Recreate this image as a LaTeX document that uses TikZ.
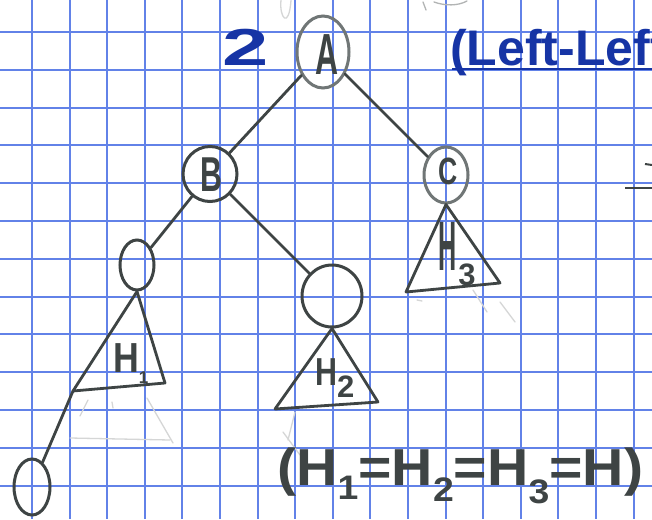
\documentclass[tikz,border=0pt]{standalone}
\usepackage{fontspec}
\setmainfont{Liberation Sans}
\usetikzlibrary{shapes.geometric}
\definecolor{gridblue}{RGB}{98,130,232}
\definecolor{pencil}{RGB}{62,68,68}
\definecolor{lightpencil}{RGB}{112,118,118}
\definecolor{ink}{RGB}{22,52,165}
\begin{document}
\begin{tikzpicture}[x=1pt,y=-1pt,
  gridline/.style={draw=gridblue,line width=2pt},
  vertex/.style={ellipse,draw=pencil,line width=3pt,inner sep=0pt},
  link/.style={draw=pencil,line width=2.8pt,line cap=round},
  tri/.style={draw=pencil,line width=2.8pt,line join=round},
  letter/.style={text=pencil,inner sep=0pt},
  blueink/.style={text=ink,inner sep=0pt},
  faint/.style={draw=pencil!22,line width=1.3pt,line cap=round}]

\fill[white] (0,0) rectangle (652,519);
\useasboundingbox (0,0) rectangle (652,519);
\begin{scope}
\clip (0,0) rectangle (652,519);
\foreach \i in {-1,...,16} \draw[gridline] ({32+37.6*\i},0) -- ({32+37.6*\i},519);
\foreach \j in {-1,...,13} \draw[gridline] (0,{32+37.8*\j}) -- (652,{32+37.8*\j});

% faint erased pencil marks
\draw[faint] (281,0) .. controls (279,18) and (289,30) .. (291,0);
\draw[faint,draw=pencil!40] (423,2) -- (426,10);
\draw[faint,draw=pencil!40] (434,2) .. controls (445,6) and (458,6) .. (467,1);
\draw[faint] (88,400) -- (80,416);
\draw[faint] (147,398) -- (173,443);
\draw[faint] (70,438) -- (170,440);
\draw[faint] (112,402) -- (113,408);
\draw[faint] (473,290) -- (487,312);
\draw[faint] (500,302) -- (515,322);
\draw[faint] (417,300) -- (422,301);
\draw[faint] (295,412) -- (288,440);
\draw[faint] (283,432) -- (300,455);

% dark marks at the right edge
\draw[draw=pencil,line width=2pt] (645,164) -- (652,165);
\draw[draw=pencil,line width=2.6pt] (625,188) -- (652,188);

% tree nodes
\node[vertex,draw=lightpencil,minimum width=52pt,minimum height=72pt] (A) at (323,52) {};
\node[vertex,minimum width=54pt,minimum height=55pt] (B) at (210,174) {};
\node[vertex,draw=lightpencil,minimum width=44pt,minimum height=56pt] (C) at (446,175) {};
\node[vertex,minimum width=34pt,minimum height=50pt] (L) at (137,265) {};
\node[vertex,minimum width=60pt,minimum height=62pt] (R) at (332,296) {};
\node[vertex,minimum width=36pt,minimum height=56pt] (D) at (32,487) {};

\node[letter,font=\bfseries\fontsize{58}{58}\selectfont] (Alab) at (327,55) {\scalebox{0.55}[1]{A}};
\node[letter,font=\bfseries\fontsize{49}{49}\selectfont] (Blab) at (211,175) {\scalebox{0.62}[1]{B}};
\node[letter,font=\bfseries\fontsize{38}{38}\selectfont] (Clab) at (448,171) {\scalebox{0.7}[1]{C}};

% edges
\draw[link] (A) -- (B);
\draw[link] (A) -- (C);
\draw[link] (B) -- (L);
\draw[link] (B) -- (R);

% subtrees
\coordinate (t1l) at (73,391);
\coordinate (t1r) at (165,383);
\draw[tri] (L.south) -- (t1l) -- (t1r) -- cycle;
\coordinate (t2l) at (275,409);
\coordinate (t2r) at (378,402);
\draw[tri] (R.south) -- (t2l) -- (t2r) -- cycle;
\coordinate (t3l) at (406,292);
\coordinate (t3r) at (500,283);
\draw[tri] (C.south) -- (t3l) -- (t3r) -- cycle;

\draw[link] (t1l) -- (D);

\node[letter,anchor=base west,font=\bfseries\fontsize{42}{42}\selectfont] (H1) at (113,372)
  {\scalebox{0.85}[1]{H}\raisebox{-11pt}{\fontsize{17}{17}\selectfont 1}};
\node[letter,anchor=base west,font=\bfseries\fontsize{39}{39}\selectfont] (H2) at (315,385)
  {\scalebox{0.78}[1]{H}\raisebox{-12pt}{\fontsize{31}{31}\selectfont 2}};
\node[letter,anchor=base west,font=\bfseries\fontsize{70}{70}\selectfont] (H3) at (438,270)
  {\scalebox{0.36}[1]{H}\hspace{2pt}\raisebox{-15pt}{\fontsize{31}{31}\selectfont 3}};

% equation
\node[letter,anchor=base west,font=\bfseries\fontsize{52}{52}\selectfont] (eq) at (277,485)
  {\scalebox{1.1}[1]{(H\raisebox{-14pt}{\fontsize{34}{34}\selectfont 1}=H\raisebox{-16pt}{\fontsize{34}{34}\selectfont 2}=H\raisebox{-18pt}{\fontsize{34}{34}\selectfont 3}=H)}};

% blue ink
\node[blueink,anchor=base west,font=\bfseries\fontsize{52}{52}\selectfont] (two) at (222,66) {\scalebox{1.6}[1]{2}};
\node[blueink,anchor=base west,font=\bfseries\fontsize{50}{50}\selectfont] (title) at (450,66) {(Left-Left};
\draw[draw=ink,line width=2.6pt] (452,69) -- (652,69);
\end{scope}
\end{tikzpicture}
\end{document}
